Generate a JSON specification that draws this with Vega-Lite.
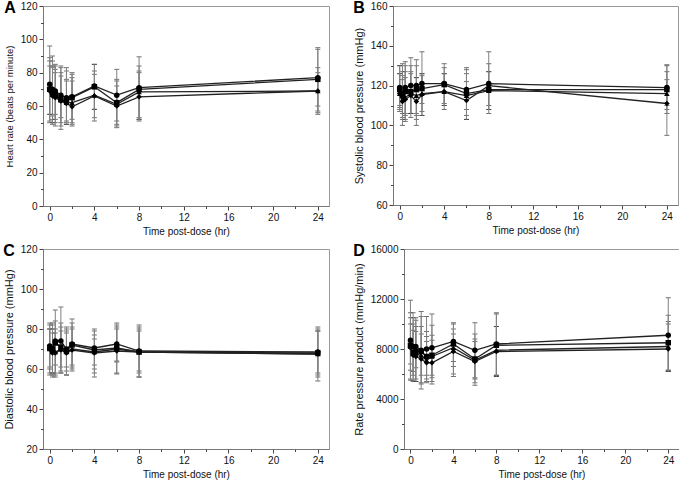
{
  "$schema": "https://vega.github.io/schema/vega-lite/v6.json",
  "padding": {"left": 2, "top": -1, "right": 0, "bottom": 0},
  "background": "white",
  "data": {"values": [
    {"p":"A","s":"S1","t":0,"m":73,"lo":50,"hi":96},{"p":"A","s":"S2","t":0,"m":70,"lo":51,"hi":89},{"p":"A","s":"S3","t":0,"m":70.5,"lo":55,"hi":87},{"p":"A","s":"S4","t":0,"m":69,"lo":55,"hi":84},
    {"p":"A","s":"S1","t":0.25,"m":70,"lo":54,"hi":90},{"p":"A","s":"S2","t":0.25,"m":68,"lo":50,"hi":87},{"p":"A","s":"S3","t":0.25,"m":67,"lo":52,"hi":84},{"p":"A","s":"S4","t":0.25,"m":66,"lo":49,"hi":83},
    {"p":"A","s":"S1","t":0.5,"m":69,"lo":55,"hi":85},{"p":"A","s":"S2","t":0.5,"m":67,"lo":52,"hi":84},{"p":"A","s":"S3","t":0.5,"m":66,"lo":50,"hi":82},{"p":"A","s":"S4","t":0.5,"m":65,"lo":48,"hi":80},
    {"p":"A","s":"S1","t":1,"m":66.5,"lo":53,"hi":84},{"p":"A","s":"S2","t":1,"m":64,"lo":50,"hi":83},{"p":"A","s":"S3","t":1,"m":63.5,"lo":48,"hi":80},{"p":"A","s":"S4","t":1,"m":63,"lo":46,"hi":78},
    {"p":"A","s":"S1","t":1.5,"m":65,"lo":51,"hi":83},{"p":"A","s":"S2","t":1.5,"m":63,"lo":50,"hi":81},{"p":"A","s":"S3","t":1.5,"m":62,"lo":49,"hi":76},{"p":"A","s":"S4","t":1.5,"m":61.5,"lo":49,"hi":75},
    {"p":"A","s":"S1","t":2,"m":65.5,"lo":52,"hi":80},{"p":"A","s":"S2","t":2,"m":65,"lo":50,"hi":79},{"p":"A","s":"S3","t":2,"m":62,"lo":49,"hi":77},{"p":"A","s":"S4","t":2,"m":59.5,"lo":48,"hi":75},
    {"p":"A","s":"S1","t":4,"m":72,"lo":58,"hi":85},{"p":"A","s":"S2","t":4,"m":71.5,"lo":58,"hi":85},{"p":"A","s":"S3","t":4,"m":66.5,"lo":53,"hi":81},{"p":"A","s":"S4","t":4,"m":66,"lo":51,"hi":79},
    {"p":"A","s":"S1","t":6,"m":66.5,"lo":51,"hi":82},{"p":"A","s":"S2","t":6,"m":62,"lo":49,"hi":76},{"p":"A","s":"S3","t":6,"m":61,"lo":48,"hi":75},{"p":"A","s":"S4","t":6,"m":60,"lo":47,"hi":72},
    {"p":"A","s":"S1","t":8,"m":71,"lo":53,"hi":89.5},{"p":"A","s":"S2","t":8,"m":70,"lo":52,"hi":84},{"p":"A","s":"S3","t":8,"m":68.5,"lo":52,"hi":81},{"p":"A","s":"S4","t":8,"m":65.5,"lo":51,"hi":80},
    {"p":"A","s":"S1","t":24,"m":77,"lo":60,"hi":95},{"p":"A","s":"S2","t":24,"m":76,"lo":57,"hi":94},{"p":"A","s":"S3","t":24,"m":69,"lo":56,"hi":83},{"p":"A","s":"S4","t":24,"m":69,"lo":55,"hi":80},

    {"p":"B","s":"S1","t":0,"m":119,"lo":108,"hi":130},{"p":"B","s":"S2","t":0,"m":118,"lo":107,"hi":130},{"p":"B","s":"S3","t":0,"m":116,"lo":109,"hi":126},{"p":"B","s":"S4","t":0,"m":116,"lo":110,"hi":126},
    {"p":"B","s":"S1","t":0.25,"m":116,"lo":100,"hi":131},{"p":"B","s":"S2","t":0.25,"m":115,"lo":103,"hi":127},{"p":"B","s":"S3","t":0.25,"m":113,"lo":104,"hi":125},{"p":"B","s":"S4","t":0.25,"m":112,"lo":106,"hi":123},
    {"p":"B","s":"S1","t":0.5,"m":119,"lo":102,"hi":132},{"p":"B","s":"S2","t":0.5,"m":117,"lo":103,"hi":130},{"p":"B","s":"S3","t":0.5,"m":114,"lo":105,"hi":127},{"p":"B","s":"S4","t":0.5,"m":113,"lo":106,"hi":124},
    {"p":"B","s":"S1","t":1,"m":120,"lo":106,"hi":134},{"p":"B","s":"S2","t":1,"m":117,"lo":106,"hi":130},{"p":"B","s":"S3","t":1,"m":116,"lo":104,"hi":127},{"p":"B","s":"S4","t":1,"m":115,"lo":106,"hi":126},
    {"p":"B","s":"S1","t":1.5,"m":120,"lo":100,"hi":133},{"p":"B","s":"S2","t":1.5,"m":118,"lo":103,"hi":130},{"p":"B","s":"S3","t":1.5,"m":115,"lo":105,"hi":124},{"p":"B","s":"S4","t":1.5,"m":112,"lo":106,"hi":124},
    {"p":"B","s":"S1","t":2,"m":121,"lo":105,"hi":137},{"p":"B","s":"S2","t":2,"m":118.5,"lo":105,"hi":126},{"p":"B","s":"S3","t":2,"m":116,"lo":107,"hi":126},{"p":"B","s":"S4","t":2,"m":115.5,"lo":111,"hi":125},
    {"p":"B","s":"S1","t":4,"m":121,"lo":108,"hi":131},{"p":"B","s":"S2","t":4,"m":120.5,"lo":110,"hi":129},{"p":"B","s":"S3","t":4,"m":117,"lo":110,"hi":126},{"p":"B","s":"S4","t":4,"m":117,"lo":111,"hi":126},
    {"p":"B","s":"S1","t":6,"m":118,"lo":103,"hi":129},{"p":"B","s":"S2","t":6,"m":116,"lo":103,"hi":128},{"p":"B","s":"S3","t":6,"m":115,"lo":105,"hi":126},{"p":"B","s":"S4","t":6,"m":112.5,"lo":108,"hi":122},
    {"p":"B","s":"S1","t":8,"m":121,"lo":106,"hi":137},{"p":"B","s":"S2","t":8,"m":118,"lo":108,"hi":131},{"p":"B","s":"S3","t":8,"m":117.5,"lo":108,"hi":127},{"p":"B","s":"S4","t":8,"m":120,"lo":110,"hi":127},
    {"p":"B","s":"S1","t":24,"m":119,"lo":106,"hi":130.5},{"p":"B","s":"S2","t":24,"m":118,"lo":108,"hi":130},{"p":"B","s":"S3","t":24,"m":116,"lo":110,"hi":127},{"p":"B","s":"S4","t":24,"m":111,"lo":95,"hi":123},

    {"p":"C","s":"S1","t":0,"m":71.5,"lo":57,"hi":83},{"p":"C","s":"S2","t":0,"m":70.5,"lo":58,"hi":82},{"p":"C","s":"S3","t":0,"m":70,"lo":60,"hi":80},{"p":"C","s":"S4","t":0,"m":70,"lo":61,"hi":80},
    {"p":"C","s":"S1","t":0.25,"m":69,"lo":56,"hi":83},{"p":"C","s":"S2","t":0.25,"m":70,"lo":57,"hi":82},{"p":"C","s":"S3","t":0.25,"m":68.5,"lo":58,"hi":80},{"p":"C","s":"S4","t":0.25,"m":68,"lo":58,"hi":78},
    {"p":"C","s":"S1","t":0.5,"m":74,"lo":57,"hi":89.5},{"p":"C","s":"S2","t":0.5,"m":73,"lo":56,"hi":84},{"p":"C","s":"S3","t":0.5,"m":68.5,"lo":58,"hi":80},{"p":"C","s":"S4","t":0.5,"m":68,"lo":62,"hi":78},
    {"p":"C","s":"S1","t":1,"m":74,"lo":58,"hi":91},{"p":"C","s":"S2","t":1,"m":71,"lo":58,"hi":83},{"p":"C","s":"S3","t":1,"m":70,"lo":59,"hi":81},{"p":"C","s":"S4","t":1,"m":69.5,"lo":61,"hi":79},
    {"p":"C","s":"S1","t":1.5,"m":70,"lo":57,"hi":81},{"p":"C","s":"S2","t":1.5,"m":69,"lo":57,"hi":80},{"p":"C","s":"S3","t":1.5,"m":68.5,"lo":61,"hi":79},{"p":"C","s":"S4","t":1.5,"m":68,"lo":59,"hi":78},
    {"p":"C","s":"S1","t":2,"m":72.5,"lo":59,"hi":85},{"p":"C","s":"S2","t":2,"m":72,"lo":60,"hi":83},{"p":"C","s":"S3","t":2,"m":70,"lo":61,"hi":81},{"p":"C","s":"S4","t":2,"m":69.5,"lo":62,"hi":80},
    {"p":"C","s":"S1","t":4,"m":70.5,"lo":56,"hi":80},{"p":"C","s":"S2","t":4,"m":69.5,"lo":58,"hi":79},{"p":"C","s":"S3","t":4,"m":68.5,"lo":60,"hi":77},{"p":"C","s":"S4","t":4,"m":68,"lo":62,"hi":75},
    {"p":"C","s":"S1","t":6,"m":72.5,"lo":57.5,"hi":83},{"p":"C","s":"S2","t":6,"m":70.5,"lo":58,"hi":82},{"p":"C","s":"S3","t":6,"m":70,"lo":63.5,"hi":81},{"p":"C","s":"S4","t":6,"m":69,"lo":64,"hi":80},
    {"p":"C","s":"S1","t":8,"m":69,"lo":56,"hi":82},{"p":"C","s":"S2","t":8,"m":68.5,"lo":56,"hi":81},{"p":"C","s":"S3","t":8,"m":68.5,"lo":58,"hi":80},{"p":"C","s":"S4","t":8,"m":68.5,"lo":59,"hi":79},
    {"p":"C","s":"S1","t":24,"m":68.5,"lo":54,"hi":81},{"p":"C","s":"S2","t":24,"m":68,"lo":56,"hi":80},{"p":"C","s":"S3","t":24,"m":67.5,"lo":57,"hi":79},{"p":"C","s":"S4","t":24,"m":67.5,"lo":58,"hi":79},

    {"p":"D","s":"S1","t":0,"m":8700,"lo":5500,"hi":11900},{"p":"D","s":"S2","t":0,"m":8300,"lo":5600,"hi":10900},{"p":"D","s":"S3","t":0,"m":8200,"lo":6300,"hi":10500},{"p":"D","s":"S4","t":0,"m":8100,"lo":6800,"hi":10000},
    {"p":"D","s":"S1","t":0.25,"m":8200,"lo":5400,"hi":10900},{"p":"D","s":"S2","t":0.25,"m":7700,"lo":5500,"hi":10500},{"p":"D","s":"S3","t":0.25,"m":7600,"lo":5900,"hi":10000},{"p":"D","s":"S4","t":0.25,"m":7500,"lo":6200,"hi":9500},
    {"p":"D","s":"S1","t":0.5,"m":8200,"lo":5400,"hi":10500},{"p":"D","s":"S2","t":0.5,"m":7800,"lo":5400,"hi":10300},{"p":"D","s":"S3","t":0.5,"m":7600,"lo":5600,"hi":9800},{"p":"D","s":"S4","t":0.5,"m":7400,"lo":6500,"hi":9400},
    {"p":"D","s":"S1","t":1,"m":7900,"lo":4800,"hi":11000},{"p":"D","s":"S2","t":1,"m":7800,"lo":5200,"hi":10600},{"p":"D","s":"S3","t":1,"m":7500,"lo":5300,"hi":9800},{"p":"D","s":"S4","t":1,"m":7200,"lo":5900,"hi":9200},
    {"p":"D","s":"S1","t":1.5,"m":8000,"lo":5300,"hi":10600},{"p":"D","s":"S2","t":1.5,"m":7400,"lo":5400,"hi":9400},{"p":"D","s":"S3","t":1.5,"m":7100,"lo":5600,"hi":9000},{"p":"D","s":"S4","t":1.5,"m":6900,"lo":5900,"hi":8600},
    {"p":"D","s":"S1","t":2,"m":8100,"lo":5200,"hi":10800},{"p":"D","s":"S2","t":2,"m":7500,"lo":5400,"hi":9900},{"p":"D","s":"S3","t":2,"m":7400,"lo":5700,"hi":9100},{"p":"D","s":"S4","t":2,"m":6900,"lo":5900,"hi":8700},
    {"p":"D","s":"S1","t":4,"m":8600,"lo":5800,"hi":10100},{"p":"D","s":"S2","t":4,"m":8400,"lo":6000,"hi":10000},{"p":"D","s":"S3","t":4,"m":8100,"lo":6600,"hi":9600},{"p":"D","s":"S4","t":4,"m":7800,"lo":7000,"hi":9200},
    {"p":"D","s":"S1","t":6,"m":7900,"lo":5100,"hi":10100},{"p":"D","s":"S2","t":6,"m":7200,"lo":5300,"hi":9200},{"p":"D","s":"S3","t":6,"m":7100,"lo":5600,"hi":8800},{"p":"D","s":"S4","t":6,"m":7000,"lo":5700,"hi":8600},
    {"p":"D","s":"S1","t":8,"m":8400,"lo":5800,"hi":10900},{"p":"D","s":"S2","t":8,"m":8300,"lo":5800,"hi":10800},{"p":"D","s":"S3","t":8,"m":7900,"lo":5900,"hi":9800},{"p":"D","s":"S4","t":8,"m":7800,"lo":5900,"hi":9800},
    {"p":"D","s":"S1","t":24,"m":9100,"lo":6200,"hi":12100},{"p":"D","s":"S2","t":24,"m":8500,"lo":6200,"hi":10700},{"p":"D","s":"S3","t":24,"m":8200,"lo":6300,"hi":10200},{"p":"D","s":"S4","t":24,"m":8000,"lo":6300,"hi":10000}
  ]},
  "vconcat": [
    {"hconcat": [
      {"title": "A", "width": 286, "height": 200,
       "transform": [{"filter": "datum.p == 'A'"}],
       "resolve": {"axis": {"x": "independent", "y": "independent"}},
       "layer": [
        {"mark": {"type": "errorbar", "color": "#808080", "ticks": {"color": "#333", "size": 5}},
         "encoding": {
          "x": {"field": "t", "type": "quantitative", "scale": {"domain": [-0.6, 25], "nice": false, "zero": false}, "axis": {"orient": "bottom", "values": [0,4,8,12,16,20,24], "title": "Time post-dose (hr)"}},
          "y": {"field": "lo", "type": "quantitative", "scale": {"domain": [0, 120], "nice": false, "zero": false}, "axis": {"orient": "left", "values": [0,20,40,60,80,100,120], "title": "Heart rate (beats per minute)", "titleFontSize": 9.5}},
          "y2": {"field": "hi"}}},
        {"mark": {"type": "line", "color": "#222", "strokeWidth": 1.3},
         "encoding": {
          "x": {"field": "t", "type": "quantitative", "axis": {"orient": "bottom", "values": [2,6,10,14,18,22], "labels": false, "domain": false, "tickSize": 2.5, "title": null}},
          "y": {"field": "m", "type": "quantitative", "axis": {"orient": "left", "values": [10,30,50,70,90,110], "labels": false, "domain": false, "tickSize": 2.5, "title": null}},
          "detail": {"field": "s"}}},
        {"mark": {"type": "point", "filled": true, "color": "#000", "opacity": 1, "size": 30},
         "encoding": {
          "x": {"field": "t", "type": "quantitative", "axis": null},
          "y": {"field": "m", "type": "quantitative", "axis": null},
          "shape": {"field": "s", "type": "nominal", "scale": {"domain": ["S1","S2","S3","S4"], "range": ["circle","square","triangle-up","diamond"]}, "legend": null}}}
       ]},
      {"title": "B", "width": 285, "height": 199,
       "transform": [{"filter": "datum.p == 'B'"}],
       "resolve": {"axis": {"x": "independent", "y": "independent"}},
       "layer": [
        {"mark": {"type": "errorbar", "color": "#808080", "ticks": {"color": "#333", "size": 5}},
         "encoding": {
          "x": {"field": "t", "type": "quantitative", "scale": {"domain": [-0.6, 25], "nice": false, "zero": false}, "axis": {"orient": "bottom", "values": [0,4,8,12,16,20,24], "title": "Time post-dose (hr)"}},
          "y": {"field": "lo", "type": "quantitative", "scale": {"domain": [60, 160], "nice": false, "zero": false}, "axis": {"orient": "left", "values": [60,80,100,120,140,160], "title": "Systolic blood pressure (mmHg)"}},
          "y2": {"field": "hi"}}},
        {"mark": {"type": "line", "color": "#222", "strokeWidth": 1.3},
         "encoding": {
          "x": {"field": "t", "type": "quantitative", "axis": {"orient": "bottom", "values": [2,6,10,14,18,22], "labels": false, "domain": false, "tickSize": 2.5, "title": null}},
          "y": {"field": "m", "type": "quantitative", "axis": {"orient": "left", "values": [70,90,110,130,150], "labels": false, "domain": false, "tickSize": 2.5, "title": null}},
          "detail": {"field": "s"}}},
        {"mark": {"type": "point", "filled": true, "color": "#000", "opacity": 1, "size": 30},
         "encoding": {
          "x": {"field": "t", "type": "quantitative", "axis": null},
          "y": {"field": "m", "type": "quantitative", "axis": null},
          "shape": {"field": "s", "type": "nominal", "scale": {"domain": ["S1","S2","S3","S4"], "range": ["circle","square","triangle-up","diamond"]}, "legend": null}}}
       ]}
    ]},
    {"hconcat": [
      {"title": "C", "width": 286, "height": 200,
       "transform": [{"filter": "datum.p == 'C'"}],
       "resolve": {"axis": {"x": "independent", "y": "independent"}},
       "layer": [
        {"mark": {"type": "errorbar", "color": "#808080", "ticks": {"color": "#333", "size": 5}},
         "encoding": {
          "x": {"field": "t", "type": "quantitative", "scale": {"domain": [-0.6, 25], "nice": false, "zero": false}, "axis": {"orient": "bottom", "values": [0,4,8,12,16,20,24], "title": "Time post-dose (hr)"}},
          "y": {"field": "lo", "type": "quantitative", "scale": {"domain": [20, 120], "nice": false, "zero": false}, "axis": {"orient": "left", "values": [20,40,60,80,100,120], "title": "Diastolic blood pressure (mmHg)"}},
          "y2": {"field": "hi"}}},
        {"mark": {"type": "line", "color": "#222", "strokeWidth": 1.3},
         "encoding": {
          "x": {"field": "t", "type": "quantitative", "axis": {"orient": "bottom", "values": [2,6,10,14,18,22], "labels": false, "domain": false, "tickSize": 2.5, "title": null}},
          "y": {"field": "m", "type": "quantitative", "axis": {"orient": "left", "values": [30,50,70,90,110], "labels": false, "domain": false, "tickSize": 2.5, "title": null}},
          "detail": {"field": "s"}}},
        {"mark": {"type": "point", "filled": true, "color": "#000", "opacity": 1, "size": 30},
         "encoding": {
          "x": {"field": "t", "type": "quantitative", "axis": null},
          "y": {"field": "m", "type": "quantitative", "axis": null},
          "shape": {"field": "s", "type": "nominal", "scale": {"domain": ["S1","S2","S3","S4"], "range": ["circle","square","triangle-up","diamond"]}, "legend": null}}}
       ]},
      {"title": "D", "width": 275, "height": 200,
       "transform": [{"filter": "datum.p == 'D'"}],
       "resolve": {"axis": {"x": "independent", "y": "independent"}},
       "layer": [
        {"mark": {"type": "errorbar", "color": "#808080", "ticks": {"color": "#333", "size": 5}},
         "encoding": {
          "x": {"field": "t", "type": "quantitative", "scale": {"domain": [-0.6, 25], "nice": false, "zero": false}, "axis": {"orient": "bottom", "values": [0,4,8,12,16,20,24], "title": "Time post-dose (hr)"}},
          "y": {"field": "lo", "type": "quantitative", "scale": {"domain": [0, 16000], "nice": false, "zero": false}, "axis": {"orient": "left", "values": [0,4000,8000,12000,16000], "format": "d", "title": "Rate pressure product (mmHg/min)"}},
          "y2": {"field": "hi"}}},
        {"mark": {"type": "line", "color": "#222", "strokeWidth": 1.3},
         "encoding": {
          "x": {"field": "t", "type": "quantitative", "axis": {"orient": "bottom", "values": [2,6,10,14,18,22], "labels": false, "domain": false, "tickSize": 2.5, "title": null}},
          "y": {"field": "m", "type": "quantitative", "axis": {"orient": "left", "values": [2000,6000,10000,14000], "labels": false, "domain": false, "tickSize": 2.5, "title": null}},
          "detail": {"field": "s"}}},
        {"mark": {"type": "point", "filled": true, "color": "#000", "opacity": 1, "size": 30},
         "encoding": {
          "x": {"field": "t", "type": "quantitative", "axis": null},
          "y": {"field": "m", "type": "quantitative", "axis": null},
          "shape": {"field": "s", "type": "nominal", "scale": {"domain": ["S1","S2","S3","S4"], "range": ["circle","square","triangle-up","diamond"]}, "legend": null}}}
       ]}
    ]}
  ],
  "spacing": 5,
  "config": {
    "font": "Liberation Sans",
    "view": {"stroke": "#999", "strokeWidth": 1},
    "concat": {"spacing": 22},
    "axis": {"grid": false, "labelFont": "Liberation Sans", "titleFont": "Liberation Sans", "labelFontSize": 10, "titleFontSize": 10, "titleFontWeight": "normal", "labelColor": "#111", "titleColor": "#111", "tickColor": "#444", "domainColor": "#777", "tickSize": 4, "labelPadding": 2},
    "axisX": {"titlePadding": 4},
    "axisY": {"titlePadding": 6, "titleFontSize": 11},
    "title": {"font": "Liberation Sans", "fontSize": 16, "fontWeight": "bold", "anchor": "start", "frame": "bounds", "offset": -15, "color": "#000"}
  }
}
